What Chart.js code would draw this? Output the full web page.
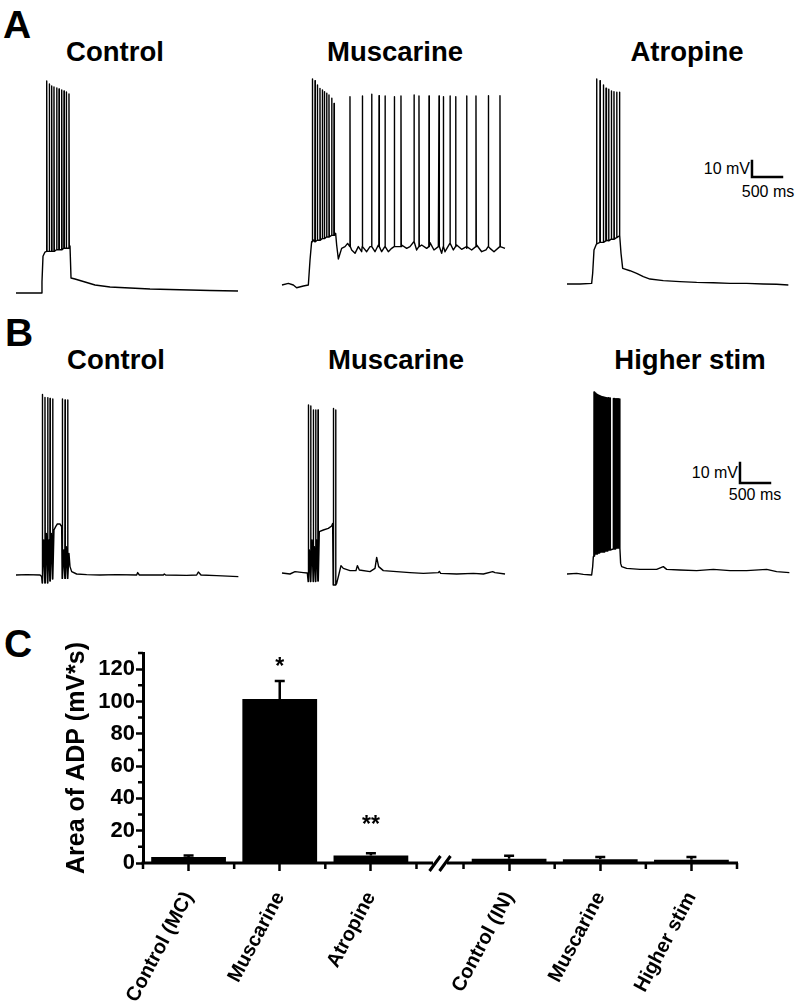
<!DOCTYPE html>
<html>
<head>
<meta charset="utf-8">
<script src="https://cdn.jsdelivr.net/npm/chart.js@4.4.1/dist/chart.umd.min.js"></script>
<style>
  html, body { margin: 0; padding: 0; background: #fff; }
  #fig { position: relative; width: 799px; height: 1007px; overflow: hidden;
         font-family: "Liberation Sans", Arial, sans-serif; color: #000; }
  #fig canvas { position: absolute; }
  .lbl { position: absolute; white-space: nowrap; transform: translate(-50%, -50%); line-height: 1; }
  .panel { font-weight: bold; font-size: 39px; }
  .title { font-weight: bold; font-size: 27.5px; }
  .sb { font-size: 16px; }
  .sb.r { transform: translate(-100%, -50%); }
</style>
</head>
<body>
<div id="fig">
  <div class="lbl panel" style="left:17px;top:24px">A</div>
  <div class="lbl title" style="left:115px;top:52px">Control</div>
  <div class="lbl title" style="left:395px;top:52px">Muscarine</div>
  <div class="lbl title" style="left:687px;top:52px">Atropine</div>
  <div class="lbl sb r" style="left:750px;top:169px">10 mV</div>
  <div class="lbl sb" style="left:768px;top:192px">500 ms</div>

  <div class="lbl panel" style="left:19px;top:332px">B</div>
  <div class="lbl title" style="left:116px;top:360px">Control</div>
  <div class="lbl title" style="left:396px;top:360px">Muscarine</div>
  <div class="lbl title" style="left:690px;top:360px">Higher stim</div>
  <div class="lbl sb r" style="left:738px;top:473px">10 mV</div>
  <div class="lbl sb" style="left:755px;top:495px">500 ms</div>

  <div class="lbl panel" style="left:18px;top:643px">C</div>

  <canvas id="aControl"></canvas>
  <canvas id="aMusc"></canvas>
  <canvas id="aAtro"></canvas>
  <canvas id="bControl"></canvas>
  <canvas id="bMusc"></canvas>
  <canvas id="bHigh"></canvas>
  <canvas id="adp"></canvas>
</div>
<script>
const FONT = "'Liberation Sans', Arial, sans-serif";
Chart.defaults.font.family = FONT;
Chart.defaults.color = '#000';

// recordings: time in ms from trace start, voltage in mV above rest
// shape = subthreshold trace, spikes = [time, peak, trough]
const aControlShape = [[0,0],[417,0],[433,6.9],[450,23],[483,25.6],[517,27.5],[900,29.4],[917,9.4],[983,8.75],
  [1150,6.9],[1317,5],[1567,3.75],[1900,3.1],[2233,2.5],[2567,2.2],[2900,1.9],[3233,1.6],[3700,1.25]];
const aControlSpikes = [[512,132.5,26],[555,130.6,26],[595,129.4,26],[633,128.8,26],[678,128.1,27],
  [717,127.5,27],[762,126.9,27],[800,126.3,28],[838,125.6,28],[883,124.4,28]];

const aMuscShape = [[0,0],[106,1.0],[189,0],[244,-1.7],[356,-0.6],[439,0],[467,15.6],[494,27.1],[522,28.1],
  [894,32.3],[911,25],[939,16.25],[994,22.9],[1050,24.0],[1094,26.0],[1161,21.9],[1217,19.8],[1272,24.0],
  [1328,20.8],[1411,20.8],[1467,24.0],[1550,20.8],[1606,25.0],[1661,20.8],[1717,24.0],[1772,20.8],[1828,22.9],
  [1911,24.0],[1994,25.0],[2078,22.9],[2133,24.0],[2200,27.1],[2244,21.9],[2328,25.0],[2411,22.9],[2467,26.5],
  [2533,21.9],[2606,24.0],[2661,19.8],[2717,20.8],[2800,26.0],[2856,21.9],[2911,25.0],[2994,22.3],[3078,22.9],
  [3161,21.9],[3244,25.0],[3328,20.8],[3400,21.9],[3467,22.9],[3533,20.8],[3633,24.0],[3717,22.9]];
const aMuscSpikes = [[506,128.8,27],[550,127.7,27],[589,125.0,28],[633,122.9,28],[672,121.9,29],[706,120.8,29],
  [744,119.8,30],[783,118.8,30],[828,116.7,31],[867,113.5,31],
  [1133,117.7,24],[1339,118.1,24],[1494,119.2,24],[1617,118.3,24],[1717,118.1,24],[1872,117.7,24],[1983,118.1,24],
  [2200,118.8,27],[2283,118.1,24],[2450,118.1,24],[2617,118.1,24],[2689,117.7,24],[2800,118.1,26],[2894,117.7,24],
  [3078,118.1,24],[3233,118.1,24],[3439,118.3,24],[3633,118.3,24]];

const aAtroShape = [[0,0],[217,0],[411,0.4],[428,6.7],[450,21.25],[494,25.4],[661,27.5],[883,30.6],[900,19.2],
  [928,9.8],[1050,8.3],[1161,6.7],[1272,4.6],[1383,3.1],[1605,2.1],[1883,1.5],[2161,1.0],[2439,0.8],[2717,0.4],
  [2994,0.4],[3272,0],[3494,-0.2],[3689,-0.6]];
const aAtroSpikes = [[494,128.1,25],[550,127.1,26],[606,124.4,26],[650,122.3,27],[694,121.7,27],[739,120.6,28],
  [783,120.2,28],[828,119.8,29],[872,119.8,30]];

const bControlShape = [[0,0],[178,0.2],[400,0],[428,-0.8],[461,17.5],[506,20.8],[550,17.5],[589,20.8],[633,22.5],
  [661,24.2],[689,25.5],[733,25.5],[761,24.2],[794,12.5],[839,14.2],[883,10.8],[900,4.2],[928,1.7],[1011,0.5],
  [1178,0.2],[1400,0],[1678,0.2],[2011,0],[2028,1.2],[2056,0],[2456,0],[2472,0.5],[2494,0],[2844,-0.2],[3011,0],
  [3039,1.5],[3083,0],[3344,-0.3],[3706,-0.8]];
const bControlSpikes = [[439,90.3,-4],[483,88.8,-4],[528,88.7,-4],[567,88.3,-3],[611,88.0,-2],
  [772,88.0,-1.7],[817,87.5,-1.7],[861,87.5,-1.7]];

const bMuscShape = [[0,0],[133,-0.5],[217,0.7],[356,0.2],[422,0],[456,11.5],[500,16.5],[539,13.2],[578,16.5],
  [622,20.7],[689,21.5],[772,22.3],[828,23.5],[844,24.8],[911,-5.2],[939,-1.8],[983,3.7],[1022,2.3],[1133,1.2],
  [1233,1.2],[1256,3.7],[1289,1.5],[1467,0.7],[1550,2.3],[1578,7.8],[1611,3.2],[1689,1.2],[1911,0.7],[2133,0.2],
  [2356,-0.2],[2606,0.2],[2622,0.8],[2644,-0.2],[2911,-0.5],[3189,-0.2],[3356,-0.5],[3511,0.7],[3550,0.2],[3717,-0.5]];
const bMuscSpikes = [[439,84,-4.3],[478,83.5,-4.3],[522,81.5,-4.3],[561,81.5,-4.3],[600,81.5,-4],
  [856,82.3,-6],[894,81.5,-6]];

const bHighShape = [[0,0],[161,0.3],[272,-0.2],[411,-0.5],[428,3.7],[439,8.7],[494,10.3],[661,11.7],[883,13.3],
  [894,5.3],[911,3.7],[994,2.8],[1217,2.3],[1494,2.3],[1605,3.7],[1661,2.3],[1883,2],[2161,1.7],[2439,2.3],
  [2717,1.7],[2994,1.7],[3328,2.3],[3494,1.2],[3706,0.7]];
const bHighSpikes = [[450,91,9],[468,90.5,10],[486,90,10],[504,89.8,10],[522,89.5,10.5],[540,89.3,10.5],
  [558,89,11],[576,88.8,11],[594,88.6,11],[612,88.5,11],[630,88.4,11.5],[648,88.3,11.5],[666,88.2,11.5],
  [684,88.1,12],[702,88,12],[720,88,12],[770,87.8,12.5],[788,87.8,12.5],[806,87.7,12.5],[824,87.7,13],
  [842,87.6,13],[860,87.6,13],[878,87.5,13]];

// panel C
const categories = ['Control (MC)', 'Muscarine', 'Atropine', 'Control (IN)', 'Muscarine', 'Higher stim'];
const adpMean = [3.7, 101.5, 4.7, 2.7, 2.3, 2.0];
const adpSem = [1.0, 11.2, 1.3, 1.8, 1.4, 1.7];
const sigMarks = ['', '*', '**', '', '', ''];
const sigLevel = [null, 124.5, 26.6, null, null, null];
const yMajorTicks = [0, 20, 40, 60, 80, 100, 120];
const yMinorTicks = [10, 30, 50, 70, 90, 110, 130];

// scale: 500 ms = 30 px, 10 mV = 16 px (A) / 20 px (B)
const MS_PER_PX = 500 / 30;

function buildTrace(shape, spikes) {
  const pts = shape.map(p => ({ x: p[0], y: p[1] }));
  spikes.forEach(s => {
    pts.push({ x: s[0] - 3, y: s[2] }, { x: s[0], y: s[1] }, { x: s[0] + 5, y: s[2] });
  });
  return pts.sort((a, b) => a.x - b.x);
}

const scaleBarPlugin = {
  id: 'scaleBar',
  afterDraw(chart) {
    const bar = chart.options.plugins.scaleBar;
    if (!bar || !bar.show) return;
    const { ctx, scales: { x, y } } = chart;
    const x0 = x.getPixelForValue(bar.t), y0 = y.getPixelForValue(bar.v);
    ctx.save();
    ctx.strokeStyle = '#000';
    ctx.lineWidth = 2.5;
    ctx.lineCap = 'square';
    ctx.beginPath();
    ctx.moveTo(x0, y.getPixelForValue(bar.v + bar.dv));
    ctx.lineTo(x0, y0);
    ctx.lineTo(x.getPixelForValue(bar.t + bar.dt), y0);
    ctx.stroke();
    ctx.restore();
  }
};

function traceChart(id, shape, spikes, box, pxPerMv, bar) {
  const cv = document.getElementById(id);
  cv.width = box.w; cv.height = box.h;
  cv.style.left = box.left + 'px'; cv.style.top = box.top + 'px';
  return new Chart(cv, {
    type: 'line',
    data: { datasets: [{ data: buildTrace(shape, spikes), borderColor: '#000', borderWidth: 1.4,
      pointRadius: 0, tension: 0, borderJoinStyle: 'round', fill: false }] },
    options: {
      responsive: false, animation: false, events: [],
      layout: { padding: 0 },
      plugins: { legend: { display: false }, tooltip: { enabled: false },
        scaleBar: Object.assign({ show: !!bar }, bar || {}) },
      scales: {
        x: { type: 'linear', display: false,
             min: (box.left - box.x0) * MS_PER_PX, max: (box.left + box.w - box.x0) * MS_PER_PX },
        y: { type: 'linear', display: false,
             max: (box.y0 - box.top) / pxPerMv, min: (box.y0 - box.top - box.h) / pxPerMv }
      }
    },
    plugins: [scaleBarPlugin]
  });
}

traceChart('aControl', aControlShape, aControlSpikes, { left: 8, top: 60, w: 244, h: 250, x0: 16, y0: 293 }, 1.6);
traceChart('aMusc', aMuscShape, aMuscSpikes, { left: 274, top: 60, w: 244, h: 250, x0: 282, y0: 285 }, 1.6);
traceChart('aAtro', aAtroShape, aAtroSpikes, { left: 558, top: 60, w: 241, h: 250, x0: 567, y0: 284 }, 1.6,
  { t: 3083, v: 66.9, dt: 500, dv: 10 });
traceChart('bControl', bControlShape, bControlSpikes, { left: 8, top: 375, w: 244, h: 225, x0: 16, y0: 575 }, 2);
traceChart('bMusc', bMuscShape, bMuscSpikes, { left: 274, top: 375, w: 244, h: 225, x0: 282, y0: 573 }, 2);
traceChart('bHigh', bHighShape, bHighSpikes, { left: 558, top: 375, w: 241, h: 225, x0: 567, y0: 574 }, 2,
  { t: 2883, v: 45.5, dt: 500, dv: 10 });

// bar chart with broken x axis between the two groups
const GROUP_GAP = 0.516;
const slotLeft = i => i + (i >= 3 ? GROUP_GAP : 0);
const barX = categories.map((c, i) => slotLeft(i) + 0.5);
const edgeX = [0, 1, 2, 3].concat([0, 1, 2, 3].map(v => v + 3 + GROUP_GAP));
const BREAK_X = 3 + GROUP_GAP / 2;

const adpDecor = {
  id: 'adpDecor',
  afterDatasetsDraw(chart) {
    const { ctx, scales: { x, y } } = chart;
    const meta = chart.getDatasetMeta(0);
    ctx.save();
    ctx.strokeStyle = '#000';
    ctx.fillStyle = '#000';
    ctx.lineWidth = 2.5;
    ctx.beginPath();
    meta.data.forEach((bar, i) => {
      const top = y.getPixelForValue(adpMean[i] + adpSem[i]);
      ctx.moveTo(bar.x, bar.y);
      ctx.lineTo(bar.x, top);
      ctx.moveTo(bar.x - 5, top);
      ctx.lineTo(bar.x + 5, top);
    });
    ctx.stroke();
    ctx.font = 'bold 23px ' + FONT;
    ctx.textAlign = 'center';
    ctx.textBaseline = 'middle';
    meta.data.forEach((bar, i) => {
      if (sigMarks[i]) ctx.fillText(sigMarks[i], bar.x, y.getPixelForValue(sigLevel[i]) + 6);
    });
    const y0 = y.getPixelForValue(0);
    const bx = x.getPixelForValue(BREAK_X);
    ctx.lineWidth = 3;
    ctx.beginPath();
    ctx.moveTo(x.getPixelForValue(0) - 1.5, y0);
    ctx.lineTo(bx - 7, y0);
    ctx.moveTo(bx + 7, y0);
    ctx.lineTo(x.getPixelForValue(x.max) + 1, y0);
    [-5, 5].forEach(d => {
      ctx.moveTo(bx + d - 5.5, y0 + 8);
      ctx.lineTo(bx + d + 5.5, y0 - 7);
    });
    ctx.stroke();
    ctx.lineWidth = 2.5;
    ctx.beginPath();
    edgeX.forEach(v => {
      const px = x.getPixelForValue(v);
      ctx.moveTo(px, y0);
      ctx.lineTo(px, y0 + 6);
    });
    yMinorTicks.forEach(v => {
      const py = y.getPixelForValue(v);
      ctx.moveTo(x.left, py);
      ctx.lineTo(x.left - 5, py);
    });
    ctx.stroke();
    ctx.restore();
  }
};

const adpCanvas = document.getElementById('adp');
adpCanvas.width = 799; adpCanvas.height = 392;
adpCanvas.style.left = '0px'; adpCanvas.style.top = '615px';

new Chart(adpCanvas, {
  type: 'bar',
  data: { datasets: [{
    data: categories.map((c, i) => ({ x: barX[i], y: adpMean[i] })),
    backgroundColor: '#000', borderWidth: 0, barPercentage: 0.82, categoryPercentage: 1
  }] },
  options: {
    responsive: false, animation: false, events: [],
    layout: { padding: { left: 62, right: 62, top: 38, bottom: 0 } },
    plugins: { legend: { display: false }, tooltip: { enabled: false } },
    scales: {
      x: {
        type: 'linear', min: 0, max: 6 + GROUP_GAP, offset: false,
        afterBuildTicks: s => { s.ticks = barX.map(v => ({ value: v })); },
        afterFit: s => { s.height = 144; },
        grid: { display: true, offset: false, drawOnChartArea: false, tickLength: 8, tickWidth: 2.5, tickColor: '#000' },
        border: { display: false },
        ticks: {
          autoSkip: false, minRotation: 62, maxRotation: 62, padding: 17, color: '#000',
          font: { weight: 'bold', size: 20 },
          callback: v => { const i = barX.findIndex(b => Math.abs(b - v) < 1e-6); return i >= 0 ? categories[i] : ''; }
        }
      },
      y: {
        min: 0, max: 130,
        afterBuildTicks: s => { s.ticks = yMajorTicks.map(v => ({ value: v })); },
        afterFit: s => { s.width = 81; },
        grid: { drawOnChartArea: false, tickLength: 7, tickWidth: 2.5, tickColor: '#000' },
        border: { display: true, width: 3, color: '#000' },
        ticks: { padding: 1, color: '#000', font: { weight: 'bold', size: 22 } },
        title: { display: true, text: 'Area of ADP (mV*s)', color: '#000',
                 font: { weight: 'bold', size: 25 }, padding: { top: 0, bottom: 0 } }
      }
    }
  },
  plugins: [adpDecor]
});
</script>
</body>
</html>
